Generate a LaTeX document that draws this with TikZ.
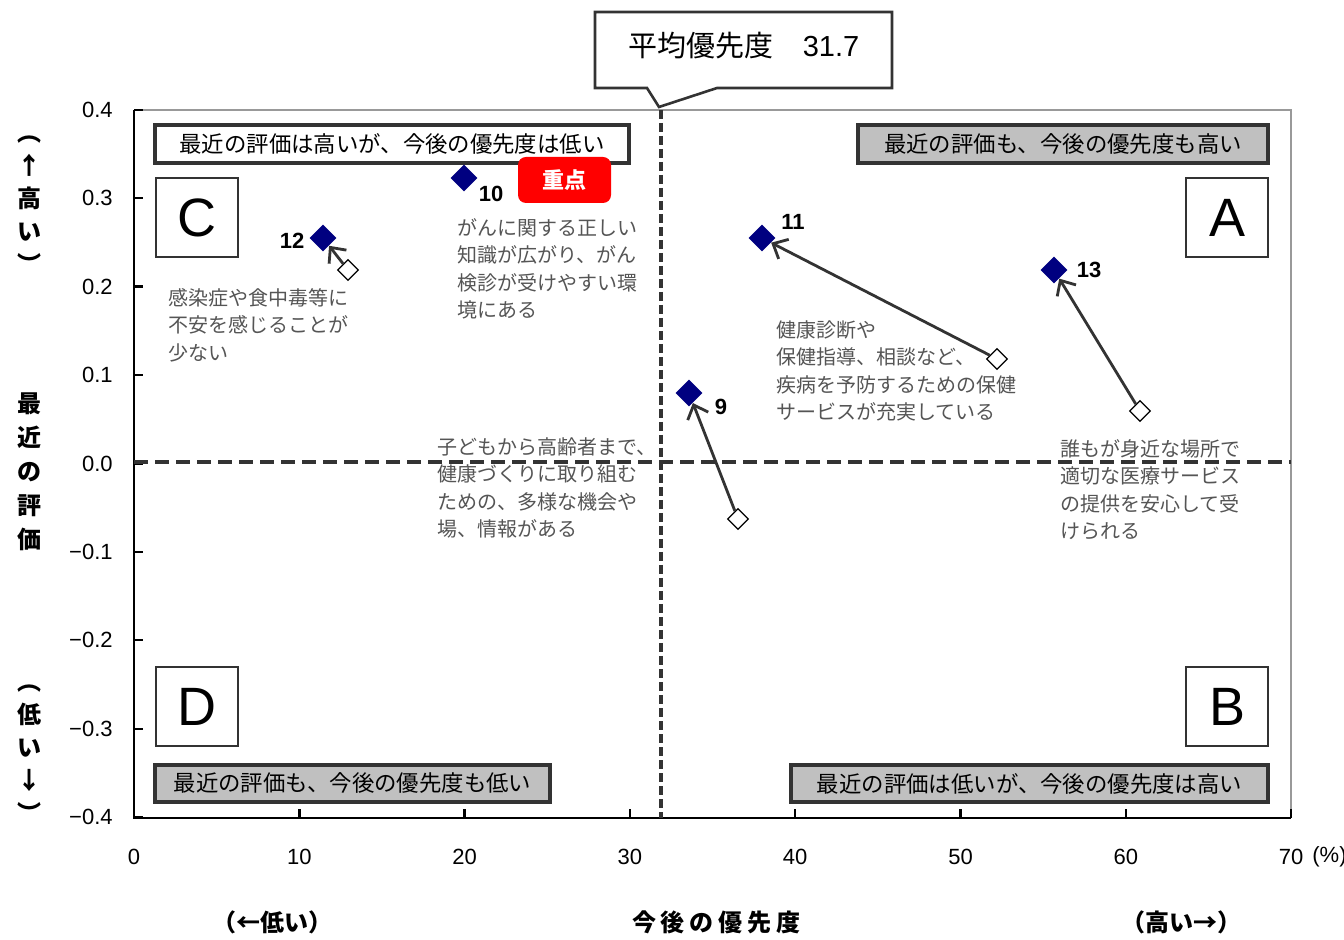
\documentclass[tikz,border=0pt]{standalone}
\usepackage{fontspec}
\setmainfont{Noto Sans CJK JP}
\newfontfamily\lat{Liberation Sans}
\usetikzlibrary{shapes.geometric,arrows.meta}
\definecolor{navy}{HTML}{000080}
\definecolor{lg}{HTML}{333333}
\definecolor{annotc}{HTML}{555555}
\definecolor{boxgray}{HTML}{C0C0C0}
\definecolor{framegray}{HTML}{999999}
\definecolor{badgered}{HTML}{FF0000}
\begin{document}
\begin{tikzpicture}[x=0.5pt,y=-0.5pt,
  qtitle/.style={draw=lg, line width=1.9pt, minimum height=19pt, inner sep=0pt, font=\fontsize{11.2}{13}\selectfont},
  qletter/.style={draw=lg, line width=1.3pt, fill=white, inner sep=0pt, minimum width=41pt, minimum height=39.5pt, font=\lat\fontsize{27}{29}\selectfont},
  annot/.style={text=annotc, align=left, inner sep=0pt, anchor=north west, font=\fontsize{10}{13.75}\selectfont},
  fdot/.style={diamond, fill=navy, inner sep=0pt, minimum size=13.5pt},
  odot/.style={diamond, draw=black, fill=white, line width=0.6pt, inner sep=0pt, minimum size=10.5pt},
  move/.style={draw=lg, line width=1.4pt, -{Straight Barb[length=6pt,width=11pt]}},
  numlab/.style={font=\lat\bfseries\fontsize{11}{13}\selectfont, inner sep=0pt},
  ytick/.style={font=\lat\fontsize{11}{13}\selectfont, anchor=east, inner sep=0pt},
  xtick/.style={font=\lat\fontsize{11}{13}\selectfont, inner sep=0pt},
  vlab/.style={align=center, inner sep=0pt, font=\bfseries\fontsize{12}{16.5}\selectfont},
  dashln/.style={draw=lg}
]
\useasboundingbox (0,0) rectangle (1344,940);
\fill[white] (0,0) rectangle (1344,940);

% frame
\draw[framegray, line width=1pt] (134,110) -- (1291,110) -- (1291,818);
\draw[black, line width=1.3pt] (134,110) -- (134,818) -- (1291,818);
% y ticks
\foreach \v/\t in {0.4/0.4,0.3/0.3,0.2/0.2,0.1/0.1,0.0/0.0,-0.1/−0.1,-0.2/−0.2,-0.3/−0.3,-0.4/−0.4}{
  \pgfmathsetmacro{\yy}{463.5-884*\v}
  \draw[black, line width=1.2pt] (134,\yy) -- (143,\yy);
  \node[ytick] (yt\t) at (113,\yy) {\t};
}
% x ticks
\foreach \u in {0,10,20,30,40,50,60,70}{
  \pgfmathsetmacro{\xx}{134+16.53*\u}
  \draw[black, line width=1.2pt] (\xx,818) -- (\xx,809);
  \node[xtick] (xt\u) at (\xx,857) {\u};
}
\node[xtick, anchor=west] (pct) at (1312,857) {(\%)};

% dashed average lines
\draw[dashln, line width=2pt, dash pattern=on 7pt off 3.5pt] (134,462) -- (1291,462);
\draw[dashln, line width=1.6pt, dash pattern=on 4.5pt off 2pt] (661,110) -- (661,818);

% callout
\draw[lg, line width=1.3pt, fill=white] (595,12) -- (892,12) -- (892,88) -- (717,88) -- (659,107) -- (647,88) -- (595,88) -- cycle;
\node[inner sep=0pt, font=\fontsize{14.5}{16}\selectfont] (avg) at (744,46) {平均優先度　{\lat 31.7}};

% quadrant titles
\node[qtitle, fill=white, minimum width=237pt] (tC) at (392,144) {最近の評価は高いが、今後の優先度は低い};
\node[qtitle, fill=boxgray, minimum width=205pt] (tA) at (1063,144) {最近の評価も、今後の優先度も高い};
\node[qtitle, fill=boxgray, minimum width=197.5pt, minimum height=18.5pt] (tD) at (352.5,783.5) {最近の評価も、今後の優先度も低い};
\node[qtitle, fill=boxgray, minimum width=238.5pt, minimum height=18.5pt] (tB) at (1029.5,783.5) {最近の評価は低いが、今後の優先度は高い};

% quadrant letters
\node[qletter] (qC) at (197,217.5) {C};
\node[qletter] (qA) at (1227,217.5) {A};
\node[qletter] (qD) at (197,706.5) {D};
\node[qletter] (qB) at (1227,706.5) {B};

% badge
\node[fill=badgered, rounded corners=4pt, minimum width=46.5pt, minimum height=23pt, inner sep=0pt, text=white, font=\bfseries\fontsize{11}{13}\selectfont] (badge) at (564.5,180) {重点};

% annotations
\node[annot] (a12) at (168,288) {感染症や食中毒等に\\不安を感じることが\\少ない};
\node[annot] (a10) at (457,218) {がんに関する正しい\\知識が広がり、がん\\検診が受けやすい環\\境にある};
\node[annot] (a11) at (776,320) {健康診断や\\保健指導、相談など、\\疾病を予防するための保健\\サービスが充実している};
\node[annot] (a9) at (437,437) {子どもから高齢者まで、\\健康づくりに取り組む\\ための、多様な機会や\\場、情報がある};
\node[annot] (a13) at (1060,439) {誰もが身近な場所で\\適切な医療サービス\\の提供を安心して受\\けられる};

% points
\node[fdot] (f10) at (464,178) {};
\node[fdot] (f12) at (323,238) {};
\node[fdot] (f11) at (762,238) {};
\node[fdot] (f13) at (1054,270) {};
\node[fdot] (f9) at (689,393) {};
\node[odot] (o12) at (348,270) {};
\node[odot] (o11) at (997,359) {};
\node[odot] (o13) at (1140,411) {};
\node[odot] (o9) at (738,519) {};
\draw[move] (o12) -- (f12);
\draw[move] (o11) -- (f11);
\draw[move] (o13) -- (f13);
\draw[move] (o9) -- (f9);

\node[numlab] (n10) at (491,194) {10};
\node[numlab] (n12) at (292,241) {12};
\node[numlab] (n11) at (793,222) {11};
\node[numlab] (n13) at (1089,270) {13};
\node[numlab] (n9) at (721,407) {9};

% axis labels
\node[vlab] (yhi) at (30,205) {︵\\↑\\高\\い\\︶};
\node[vlab, font=\bfseries\fontsize{12}{17}\selectfont] (ymain) at (30,472) {最\\近\\の\\評\\価};
\node[vlab] (ylo) at (30,754) {︵\\低\\い\\↓\\︶};
\node[inner sep=0pt, font=\bfseries\fontsize{12}{14}\selectfont] (xlo) at (272,922) {（←低い）};
\node[inner sep=0pt, font=\bfseries\fontsize{12}{14}\selectfont\addfontfeature{LetterSpace=20}] (xmain) at (716,922) {今後の優先度};
\node[inner sep=0pt, font=\bfseries\fontsize{12}{14}\selectfont] (xhi) at (1181,922) {（高い→）};
\end{tikzpicture}
\end{document}
